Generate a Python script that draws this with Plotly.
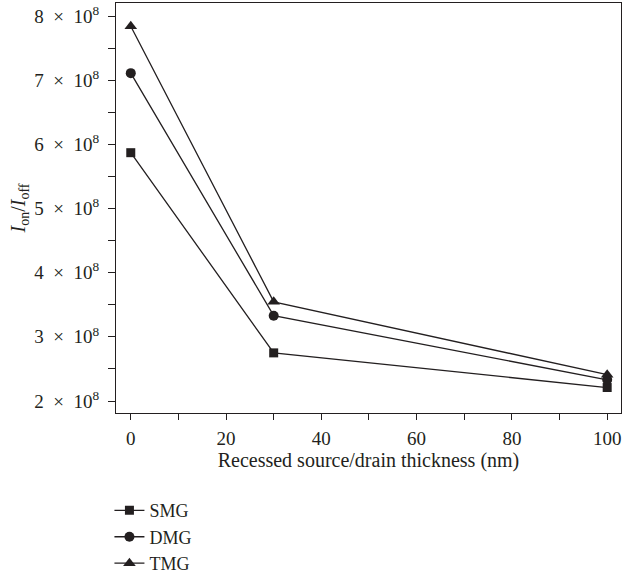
import plotly.graph_objects as go

x_vals = [0, 30, 100]
smg = [5.87e8, 2.75e8, 2.21e8]
dmg = [7.11e8, 3.33e8, 2.33e8]
tmg = [7.84e8, 3.545e8, 2.41e8]

y_tick_vals = [2e8, 3e8, 4e8, 5e8, 6e8, 7e8, 8e8]
y_tick_text = [f"{m}\u2002×\u200210<sup>8</sup>" for m in [2, 3, 4, 5, 6, 7, 8]]
y_minor_vals = [2.5e8, 3.5e8, 4.5e8, 5.5e8, 6.5e8, 7.5e8]
x_tick_vals = [0, 20, 40, 60, 80, 100]

C = "#231f20"
FONT = "Liberation Serif"

fig = go.Figure()
for name, ys, sym, sz in [("SMG", smg, "square", 9), ("DMG", dmg, "circle", 10), ("TMG", tmg, "triangle-up", 11)]:
    fig.add_trace(go.Scatter(x=x_vals, y=ys, name=name, mode="lines+markers",
                             line=dict(color=C, width=1.3),
                             marker=dict(symbol=sym, size=sz, color=C)))

fig.update_layout(
    width=623, height=576,
    margin=dict(l=116, r=2, t=3, b=163, autoexpand=False),
    plot_bgcolor="white", paper_bgcolor="white",
    font=dict(family=FONT, size=19, color=C),
    showlegend=True,
    legend=dict(x=-0.013, y=-0.193, xanchor="left", yanchor="top", orientation="v",
                font=dict(family=FONT, size=18, color=C), tracegroupgap=0,
                bgcolor="rgba(0,0,0,0)"),
)
fig.update_xaxes(range=[-3.1, 102.9], tickvals=x_tick_vals, showgrid=False, zeroline=False,
                 showline=True, linecolor=C, linewidth=1.2, mirror=True,
                 ticks="outside", ticklen=6, tickcolor=C, tickwidth=1, ticklabelstandoff=2,
                 minor=dict(dtick=10, tick0=0, ticks="outside", ticklen=6, tickcolor=C, tickwidth=1),
                 title=dict(text="Recessed source/drain thickness (nm)", standoff=5,
                            font=dict(family=FONT, size=20, color=C)),
                 tickfont=dict(family=FONT, size=19, color=C))
fig.update_yaxes(range=[1.813e8, 8.203e8], tickvals=y_tick_vals, ticktext=y_tick_text,
                 showgrid=False, zeroline=False,
                 showline=True, linecolor=C, linewidth=1.2, mirror=True,
                 ticks="outside", ticklen=7, tickcolor=C, tickwidth=1, ticklabelstandoff=5,
                 minor=dict(tickvals=y_minor_vals, ticks="outside",
                            ticklen=7, tickcolor=C, tickwidth=1),
                 title=dict(text="<i>I</i><sub>on</sub>/<i>I</i><sub>off</sub>", standoff=3,
                            font=dict(family=FONT, size=20, color=C)),
                 tickfont=dict(family=FONT, size=19, color=C))

fig.write_html("out.html")
